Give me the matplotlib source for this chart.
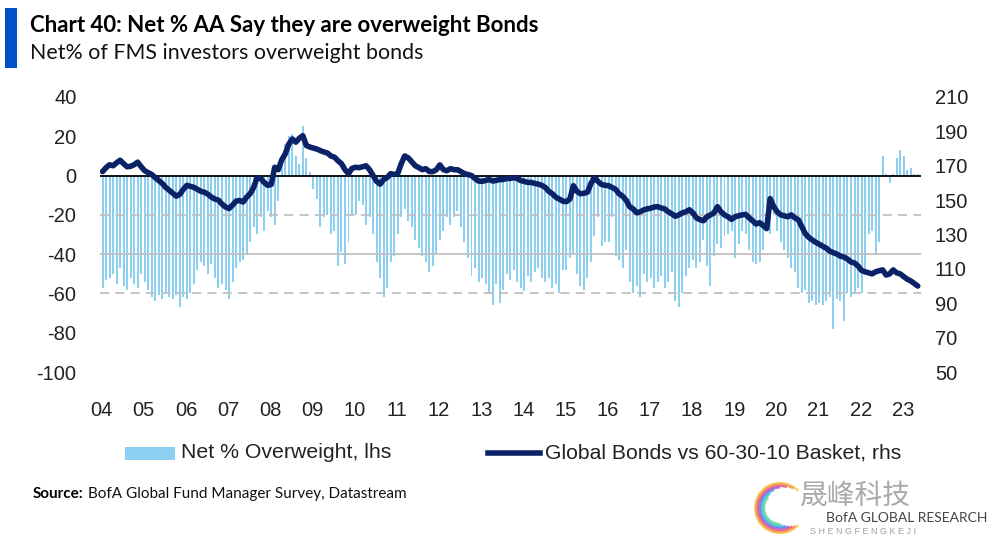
import matplotlib
matplotlib.use("Agg")
import matplotlib.pyplot as plt
import numpy as np
from matplotlib.patches import Rectangle, Arc
from matplotlib.lines import Line2D

# ---------------- data ----------------
start_year = 2004
# Net % of FMS investors overweight bonds (monthly, Jan 2004 - May 2023), lhs
net_overweight = [
    -57, -53, -52, -50, -55, -47, -56, -58, -52, -55, -57, -50,   # 2004
    -54, -58, -62, -64, -61, -63, -60, -62, -63, -61, -67, -62,   # 2005
    -63, -60, -55, -48, -44, -46, -50, -45, -52, -57, -55, -58,   # 2006
    -63, -54, -47, -44, -43, -40, -34, -26, -30, -21, -28, -18,   # 2007
    -21, -25, -13, 5, 16, 20, 21, 10, 6, 25, 9, 2,               # 2008
    -7, -12, -26, -21, -20, -30, -28, -46, -39, -45, -34, -20,    # 2009
    -20, -13, -15, -25, -21, -30, -44, -52, -62, -57, -44, -41,   # 2010
    -30, -21, -17, -23, -26, -33, -37, -41, -44, -49, -46, -40,   # 2011
    -33, -28, -21, -25, -21, -18, -26, -34, -42, -51, -47, -54,   # 2012
    -52, -55, -60, -66, -55, -65, -58, -50, -53, -48, -54, -57,   # 2013
    -59, -51, -54, -49, -47, -52, -54, -52, -57, -55, -60, -48,   # 2014
    -48, -42, -40, -50, -56, -58, -52, -44, -31, -21, -36, -34,   # 2015
    -34, -21, -41, -43, -47, -38, -54, -60, -56, -62, -50, -54,   # 2016
    -52, -57, -54, -51, -57, -54, -49, -64, -67, -60, -51, -47,   # 2017
    -43, -47, -44, -33, -46, -56, -41, -35, -37, -31, -30, -28,   # 2018
    -42, -35, -28, -30, -38, -44, -45, -44, -38, -21, -30, -20,   # 2019
    -28, -34, -38, -42, -47, -49, -57, -60, -58, -65, -64, -66,   # 2020
    -65, -66, -64, -62, -78, -63, -64, -74, -60, -62, -60, -57,   # 2021
    -60, -49, -30, -28, -40, -34, 10, 1, -4, 1, 9, 13,            # 2022
    10, 3, 4, 1, 1,                                               # 2023
]
# Global Bonds vs 60-30-10 Basket (monthly), rhs
bonds_vs_basket = [
    166.6, 168.9, 170.6, 170.0, 171.7, 173.2, 171.2, 169.4, 169.7, 170.6, 172.1, 169.4,  # 2004
    167.1, 166.0, 164.9, 163.1, 161.4, 159.7, 157.4, 155.7, 154.0, 152.3, 153.4, 156.3,  # 2005
    158.6, 158.0, 157.4, 156.3, 155.1, 154.6, 153.4, 151.7, 150.6, 150.0, 147.7, 146.0,  # 2006
    145.1, 147.1, 149.4, 149.8, 148.9, 151.7, 153.7, 157.4, 163.1, 162.6, 160.3, 158.6,  # 2007
    159.1, 169.1, 167.7, 173.4, 176.9, 182.6, 185.6, 183.7, 186.0, 187.5, 181.8, 180.9,  # 2008
    180.3, 179.7, 178.8, 178.0, 177.4, 175.7, 175.0, 172.9, 171.2, 167.7, 165.4, 168.5,  # 2009
    169.1, 168.9, 169.4, 170.0, 167.7, 164.3, 160.9, 159.3, 162.0, 163.1, 165.4, 164.9,  # 2010
    165.4, 171.2, 175.7, 174.6, 172.3, 170.0, 168.9, 167.7, 168.3, 166.6, 166.6, 167.7,  # 2011
    170.5, 167.7, 167.1, 168.3, 167.7, 167.7, 166.6, 165.4, 164.9, 164.3, 162.6, 161.1,  # 2012
    160.9, 161.4, 162.0, 161.1, 161.4, 162.0, 162.0, 162.6, 162.6, 163.1, 162.6, 161.4,  # 2013
    160.9, 160.3, 160.3, 159.7, 159.3, 158.6, 157.4, 155.1, 153.7, 151.7, 150.6, 149.4,  # 2014
    149.1, 150.6, 158.4, 155.1, 153.7, 154.0, 154.6, 159.7, 163.1, 160.9, 159.1, 158.6,  # 2015
    158.4, 157.4, 156.3, 153.7, 152.3, 150.0, 146.2, 144.9, 142.6, 143.2, 144.3, 144.9,  # 2016
    145.3, 146.0, 146.2, 145.4, 144.9, 143.2, 142.0, 140.6, 141.4, 142.6, 143.2, 144.4,  # 2017
    142.6, 139.7, 138.6, 138.0, 140.3, 141.4, 142.6, 146.2, 143.2, 141.4, 140.3, 138.8,  # 2018
    140.3, 140.9, 141.4, 141.7, 139.7, 138.0, 136.1, 136.9, 135.2, 133.4, 150.9, 146.2,  # 2019
    143.2, 141.4, 140.9, 140.3, 141.4, 139.7, 138.6, 134.6, 130.5, 128.3, 126.8, 125.4,  # 2020
    124.3, 123.1, 122.0, 120.3, 119.4, 118.6, 117.4, 116.9, 115.7, 114.0, 113.4, 111.7,  # 2021
    109.1, 108.3, 107.7, 107.1, 108.3, 108.9, 109.4, 106.4, 107.1, 109.4, 107.7, 107.1,  # 2022
    105.5, 104.0, 103.0, 101.5, 100.0,                                                    # 2023
]
lhs_ticks = [40, 20, 0, -20, -40, -60, -80, -100]
rhs_ticks = [210, 190, 170, 150, 130, 110, 90, 70, 50]
year_labels = ["04", "05", "06", "07", "08", "09", "10", "11", "12", "13",
               "14", "15", "16", "17", "18", "19", "20", "21", "22", "23"]
legend_labels = ["Net % Overweight, lhs", "Global Bonds vs 60-30-10 Basket, rhs"]

# ---------------- style ----------------
BAR_C = "#8DCFF0"
LINE_C = "#0B2266"
GRID_C = "#C0C0C0"
NARROW = ["Lato", "DejaVu Sans"]
SANS = ["Liberation Sans", "DejaVu Sans"]

W, H = 999, 535
fig = plt.figure(figsize=(W / 100, H / 100), dpi=100)


def fx(px):
    return px / W


def fy(py):
    return 1 - py / H


ax = fig.add_axes([fx(100), fy(372), fx(921) - fx(100), fy(97) - fy(372)])
x = start_year + np.arange(len(net_overweight)) / 12.0 + 0.02

# reference lines
ax.axhline(-20, color=GRID_C, lw=1.3, ls=(0, (5, 3.5)), zorder=3)
ax.axhline(-40, color=GRID_C, lw=1.3, zorder=3)
ax.axhline(-60, color=GRID_C, lw=1.3, ls=(0, (5, 3.5)), zorder=3)

ax.bar(x, net_overweight, width=0.047, color=BAR_C, zorder=2, linewidth=0)
ax.axhline(0, color="black", lw=1.3, zorder=4)

ax.set_xlim(2003.96, 2023.43)
ax.set_ylim(-100, 40)
ax.set_yticks(lhs_ticks)
ax.set_yticklabels([str(v) for v in lhs_ticks], family=SANS, fontsize=14.5, color="#222222")
ax.set_xticks(np.arange(start_year, start_year + len(year_labels)))
ax.set_xticklabels(year_labels, family=SANS, fontsize=14.5, color="#222222")
ax.tick_params(axis="y", length=0, pad=17)
ax.tick_params(axis="x", length=0, pad=21)
for s in ax.spines.values():
    s.set_visible(False)

ax2 = ax.twinx()
ax2.plot(x, bonds_vs_basket, color=LINE_C, lw=4.0, solid_joinstyle="round",
         solid_capstyle="round", zorder=5)
ax2.set_ylim(50, 210)
ax2.set_yticks(rhs_ticks)
ax2.set_yticklabels([str(v) for v in rhs_ticks], family=SANS, fontsize=14.5, color="#222222")
ax2.tick_params(axis="y", length=0, pad=10)
for s in ax2.spines.values():
    s.set_visible(False)

# ---------------- titles ----------------
fig.add_artist(Rectangle((fx(5), fy(68)), fx(12) - fx(0), fy(8) - fy(68),
                         transform=fig.transFigure, color="#0050C8", lw=0))
fig.text(fx(30), fy(25), "Chart 40: Net % AA Say they are overweight Bonds",
         family=NARROW, fontsize=16, fontweight="bold", va="center", ha="left", color="black")
fig.text(fx(30), fy(53), "Net% of FMS investors overweight bonds",
         family=NARROW, fontsize=15.4, va="center", ha="left", color="#111111")

# ---------------- legend ----------------
fig.add_artist(Rectangle((fx(125), fy(460)), fx(50), fy(0) - fy(13),
                         transform=fig.transFigure, color=BAR_C, lw=0))
fig.text(fx(181), fy(453), legend_labels[0], family=SANS, fontsize=15.3,
         va="center", ha="left", color="#222222")
fig.add_artist(Line2D([fx(488), fx(540)], [fy(453), fy(453)], transform=fig.transFigure,
                      color=LINE_C, lw=4.0))
fig.text(fx(545), fy(453), legend_labels[1], family=SANS, fontsize=15.2,
         va="center", ha="left", color="#222222")

# ---------------- source ----------------
fig.text(fx(33), fy(494), "Source:", family=NARROW, fontsize=11, fontweight="bold",
         va="center", ha="left", color="black")
fig.text(fx(88), fy(494), "BofA Global Fund Manager Survey, Datastream", family=NARROW,
         fontsize=11, va="center", ha="left", color="#111111")

# ---------------- watermark ----------------
cols = ["#F5C242", "#F08A3C", "#E6508C", "#9B59D0", "#4A8FE8", "#3CC8D8", "#5ED38A"]
for i, c in enumerate(cols):
    fig.add_artist(Arc((fx(780), fy(508)), fx(50 - i * 3), fy(0) - fy(50 - i * 3),
                       theta1=60 + i * 10, theta2=300 - i * 5, transform=fig.transFigure,
                       color=c, lw=1.6, alpha=0.8))
fig.text(fx(800), fy(496), "晟峰科技", family=["Noto Sans CJK SC", "DejaVu Sans"],
         fontsize=20, va="center", ha="left", color="#9A9A9A", alpha=0.85)
fig.text(fx(826), fy(518), "BofA GLOBAL RESEARCH", family=NARROW, fontsize=10,
         va="center", ha="left", color="#444444")
fig.text(fx(810), fy(531), "S H E N G F E N G K E J I", family=SANS, fontsize=6.5,
         va="center", ha="left", color="#A0A0A0")

fig.savefig("out.png", dpi=100)
